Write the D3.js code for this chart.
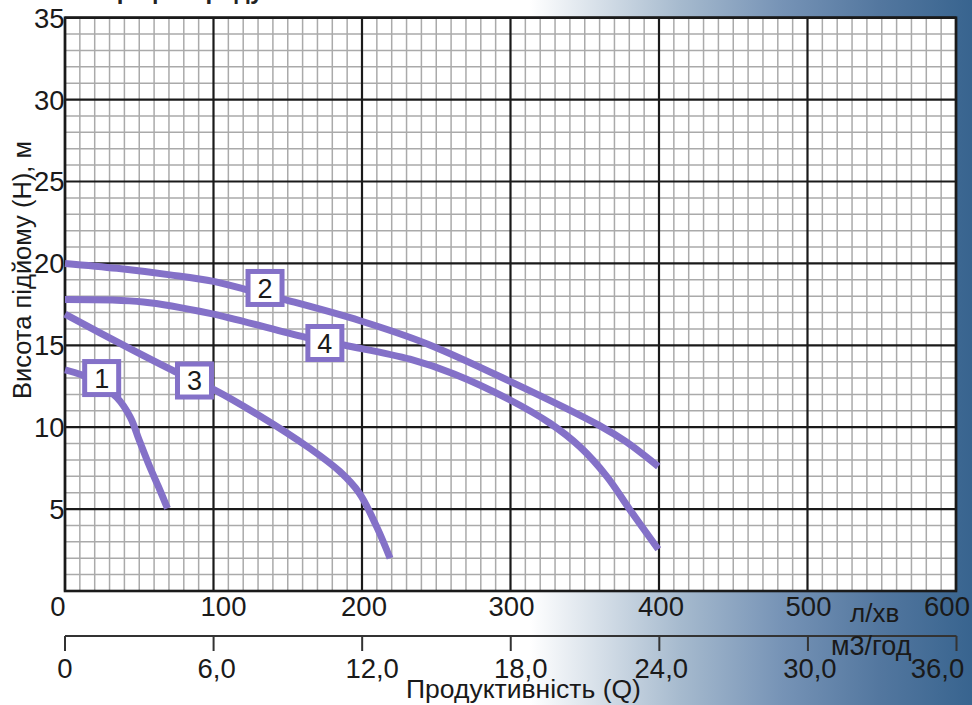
<!DOCTYPE html>
<html><head><meta charset="utf-8">
<script src="https://cdn.jsdelivr.net/npm/d3@7"></script>
<style>body{margin:0;background:#fff;}svg{display:block;font-family:"Liberation Sans",Arial,sans-serif;}</style>
</head><body><svg id="c" width="972" height="705"></svg>
<script>
// ---- data ----
const flowTicks = [0, 100, 200, 300, 400, 500, 600];
const flowTickLabels = ["0", "100", "200", "300", "400", "500", "600"];
const m3Ticks = [0, 6, 12, 18, 24, 30, 36];
const m3TickLabels = ["0", "6,0", "12,0", "18,0", "24,0", "30,0", "36,0"];
const headTicks = [5, 10, 15, 20, 25, 30, 35];
const headTickLabels = ["5", "10", "15", "20", "25", "30", "35"];
const curveNames = ["1", "2", "3", "4"];
const curve1 = [[0,13.5],[11,13.2],[22,12.7],[35,11.8],[44,10.6],[50,9.2],[57,7.6],[63,6.35],[69,5.05]];
const curve2 = [[0,20.0],[35,19.7],[70.7,19.3],[100,18.9],[122,18.4],[147.5,17.8],[198.7,16.5],[243.5,15.1],[299.7,12.8],[360,10.1],[378,9.1],[399.5,7.6]];
const curve3 = [[0,16.9],[41.5,14.9],[74,13.4],[100.3,12.3],[131,10.7],[165,8.7],[185,7.3],[198,6.0],[210,3.9],[218.9,2.0]];
const curve4 = [[0,17.8],[52.7,17.65],[97.6,16.95],[161.6,15.5],[188.6,15.0],[232.3,14.15],[262,13.25],[299.7,11.66],[326.6,10.24],[346.8,8.8],[364.8,7.0],[380.5,4.95],[399.5,2.55]];
const curveLabelAt = [[24.7,13.0],[134.7,18.5],[87.2,12.85],[175,15.14]];
const titleText = "Графік продуктивності";
const yTitle = "Висота підйому (H), м";
const xTitle = "Продуктивність (Q)";
const flowUnit = "л/хв";
const m3Unit = "м3/год";

// ---- layout ----
const svg = d3.select("#c");
const W = 972, H = 705;
const x = d3.scaleLinear().domain([0, 600]).range([65, 956]);
const xm = d3.scaleLinear().domain([0, 36]).range([65, 956.5]);
const y = d3.scaleLinear().domain([0, 35]).range([591, 17.7]);
const purple = "#8471c8";
const ink = "#1a1a1a";
const flowLabelShift = [-7, 10, 2, 1, 2, 1, -9];
const m3LabelShift = [0, 3, 10, 10, 2, 2, -19];

// background gradient
const defs = svg.append("defs");
const g = defs.append("linearGradient").attr("id","bg").attr("gradientUnits","userSpaceOnUse")
  .attr("x1",530).attr("x2",972).attr("y1",0).attr("y2",0);
[[0,"#ffffff"],[0.34,"#a6bace"],[0.57,"#7693b6"],[0.79,"#53779f"],[1,"#38648f"]]
  .forEach(s => g.append("stop").attr("offset",s[0]).attr("stop-color",s[1]));
svg.append("rect").attr("width",W).attr("height",H).attr("fill","url(#bg)");

// title (cut off at top)
svg.append("text").attr("x",104).attr("y",-1).attr("font-size",24).attr("font-weight","bold")
  .attr("fill","#222").text(titleText);

// plot area
svg.append("rect").attr("x",x(0)).attr("y",y(35)).attr("width",x(600)-x(0)).attr("height",y(0)-y(35)).attr("fill","#fff");

const grid = svg.append("g");
grid.selectAll("line.vm").data(d3.range(0, 601, 10).filter(v => v % 100 !== 0)).join("line")
  .attr("x1",d=>x(d)).attr("x2",d=>x(d)).attr("y1",y(0)).attr("y2",y(35))
  .attr("stroke","#aaaaaa").attr("stroke-width",1.5);
grid.selectAll("line.hm").data(d3.range(0, 36, 1).filter(v => v % 5 !== 0)).join("line")
  .attr("class","hm")
  .attr("y1",d=>y(d)).attr("y2",d=>y(d)).attr("x1",x(0)).attr("x2",x(600))
  .attr("stroke","#aaaaaa").attr("stroke-width",1.5);
grid.selectAll("line.vM").data(flowTicks).join("line").attr("class","vM")
  .attr("x1",d=>x(d)).attr("x2",d=>x(d)).attr("y1",y(0)).attr("y2",y(35))
  .attr("stroke",ink).attr("stroke-width",2.2);
grid.selectAll("line.hM").data([0].concat(headTicks)).join("line").attr("class","hM")
  .attr("y1",d=>y(d)).attr("y2",d=>y(d)).attr("x1",x(0)).attr("x2",x(600))
  .attr("stroke",ink).attr("stroke-width",2.2);
svg.append("rect").attr("x",x(0)).attr("y",y(35)).attr("width",x(600)-x(0)).attr("height",y(0)-y(35))
  .attr("fill","none").attr("stroke",ink).attr("stroke-width",2.6);

// curves
const line = d3.line().x(d=>x(d[0])).y(d=>y(d[1])).curve(d3.curveCatmullRom.alpha(0.5));
const curves = [curve1, curve2, curve3, curve4];
svg.append("g").selectAll("path").data(curves).join("path")
  .attr("d", line).attr("fill","none").attr("stroke",purple).attr("stroke-width",7).attr("stroke-linecap","butt");

// curve labels
const lab = svg.append("g").selectAll("g").data(curveNames).join("g")
  .attr("transform",(d,i)=>`translate(${x(curveLabelAt[i][0])},${y(curveLabelAt[i][1])})`);
lab.append("rect").attr("x",-17).attr("y",-16.5).attr("width",34).attr("height",33)
  .attr("fill","#fff").attr("stroke",purple).attr("stroke-width",5);
lab.append("text").attr("text-anchor","middle").attr("dy","0.36em").attr("font-size",27).attr("fill",ink).text(d=>d);

// y tick labels
svg.append("g").selectAll("text").data(headTicks).join("text")
  .attr("x",64.5).attr("y",d=>y(d)).attr("dy","0.36em").attr("text-anchor","end")
  .attr("font-size",27.5).attr("fill",ink).text((d,i)=>headTickLabels[i]);

// upper x tick labels
svg.append("g").selectAll("text").data(flowTicks).join("text")
  .attr("x",(d,i)=>x(d) + flowLabelShift[i]).attr("y",616).attr("text-anchor","middle")
  .attr("font-size",27.5).attr("fill",ink).text((d,i)=>flowTickLabels[i]);
svg.append("text").attr("x",850).attr("y",622).attr("font-size",26).attr("fill",ink).text(flowUnit);

// lower m3 axis
const ax = svg.append("g");
ax.append("line").attr("x1",xm(0)).attr("x2",xm(36)).attr("y1",636).attr("y2",636).attr("stroke","#333").attr("stroke-width",2);
ax.selectAll("line.t").data(m3Ticks).join("line").attr("class","t")
  .attr("x1",d=>xm(d)).attr("x2",d=>xm(d)).attr("y1",636).attr("y2",651).attr("stroke","#333").attr("stroke-width",2);
ax.selectAll("text").data(m3Ticks).join("text")
  .attr("x",(d,i)=> xm(d) + m3LabelShift[i]).attr("text-anchor","middle")
  .attr("y",678).attr("font-size",27.5).attr("fill",ink).text((d,i)=>m3TickLabels[i]);
svg.append("text").attr("x",831).attr("y",655).attr("font-size",27).attr("fill",ink).text(m3Unit);

// axis titles
svg.append("text").attr("x",406).attr("y",698).attr("font-size",26.5).attr("fill",ink).text(xTitle);
svg.append("text").attr("transform","translate(31,270) rotate(-90)").attr("text-anchor","middle")
  .attr("font-size",25.5).attr("fill",ink).text(yTitle);
</script></body></html>
